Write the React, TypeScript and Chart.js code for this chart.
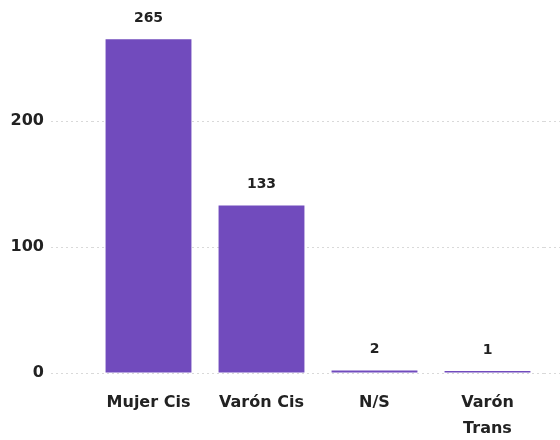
import React, { useEffect, useRef } from "react";
import { Chart, registerables } from "chart.js";

Chart.register(...registerables);

const categories: (string | string[])[] = ["Mujer Cis", "Varón Cis", "N/S", ["Varón", "Trans"]];
const values: number[] = [265, 133, 2, 1];
const yTicks: number[] = [0, 100, 200];

const BAR_COLOR = "#714bbd";
const TEXT_COLOR = "#222222";
const FONT = "'DejaVu Sans', sans-serif";

const valueLabels = {
  id: "valueLabels",
  afterDatasetsDraw(chart: any) {
    const ctx = chart.ctx;
    const meta = chart.getDatasetMeta(0);
    ctx.save();
    ctx.font = `bold 14px ${FONT}`;
    ctx.fillStyle = TEXT_COLOR;
    ctx.textAlign = "center";
    ctx.textBaseline = "middle";
    meta.data.forEach((bar: any, i: number) => {
      ctx.fillText(String(values[i]), bar.x, bar.y - 21);
    });
    ctx.restore();
  },
};

const gridExtension = {
  id: "gridExtension",
  beforeDatasetsDraw(chart: any) {
    const ctx = chart.ctx;
    const y = chart.scales.y;
    const area = chart.chartArea;
    ctx.save();
    ctx.strokeStyle = "#d9d9d9";
    ctx.lineWidth = 1;
    ctx.setLineDash([2, 3]);
    yTicks.forEach((v) => {
      const py = Math.round(y.getPixelForValue(v)) + 0.5;
      ctx.beginPath();
      ctx.moveTo(area.right, py);
      ctx.lineTo(chart.width, py);
      ctx.stroke();
    });
    ctx.restore();
  },
};

export default function App() {
  const ref = useRef<HTMLCanvasElement>(null);
  useEffect(() => {
    document.body.style.margin = "0";
    const chart = new Chart(ref.current!, {
      type: "bar",
      data: {
        labels: categories as any,
        datasets: [
          {
            data: values,
            backgroundColor: BAR_COLOR,
            categoryPercentage: 0.8,
            barPercentage: 0.95,
            minBarLength: 2,
          },
        ],
      },
      options: {
        animation: false,
        responsive: false,
        maintainAspectRatio: false,
        layout: { padding: { top: 0, right: 16, bottom: 0, left: 6 } },
        plugins: { legend: { display: false }, tooltip: { enabled: false } },
        scales: {
          x: {
            afterFit: (scale: any) => {
              scale.height = 67;
            },
            grid: { display: false },
            border: { display: false },
            ticks: {
              color: TEXT_COLOR,
              font: { family: FONT, size: 16, weight: "bold", lineHeight: 1.6 },
              padding: 9,
              maxRotation: 0,
              autoSkip: false,
            },
          },
          y: {
            min: 0,
            max: 283,
            afterBuildTicks: (scale: any) => {
              scale.ticks = yTicks.map((v) => ({ value: v }));
            },
            afterFit: (scale: any) => {
              scale.width = 86;
            },
            grid: {
              color: "#d9d9d9",
              tickLength: 41,
              tickBorderDash: [2, 3],
              tickColor: "#d9d9d9",
            },
            border: { display: false, dash: [2, 3] },
            ticks: {
              color: TEXT_COLOR,
              font: { family: FONT, size: 16, weight: "bold" },
              padding: 7,
            },
          },
        },
      } as any,
      plugins: [valueLabels, gridExtension],
    });
    return () => chart.destroy();
  }, []);
  return <canvas ref={ref} width={560} height={440} style={{ display: "block" }} />;
}
